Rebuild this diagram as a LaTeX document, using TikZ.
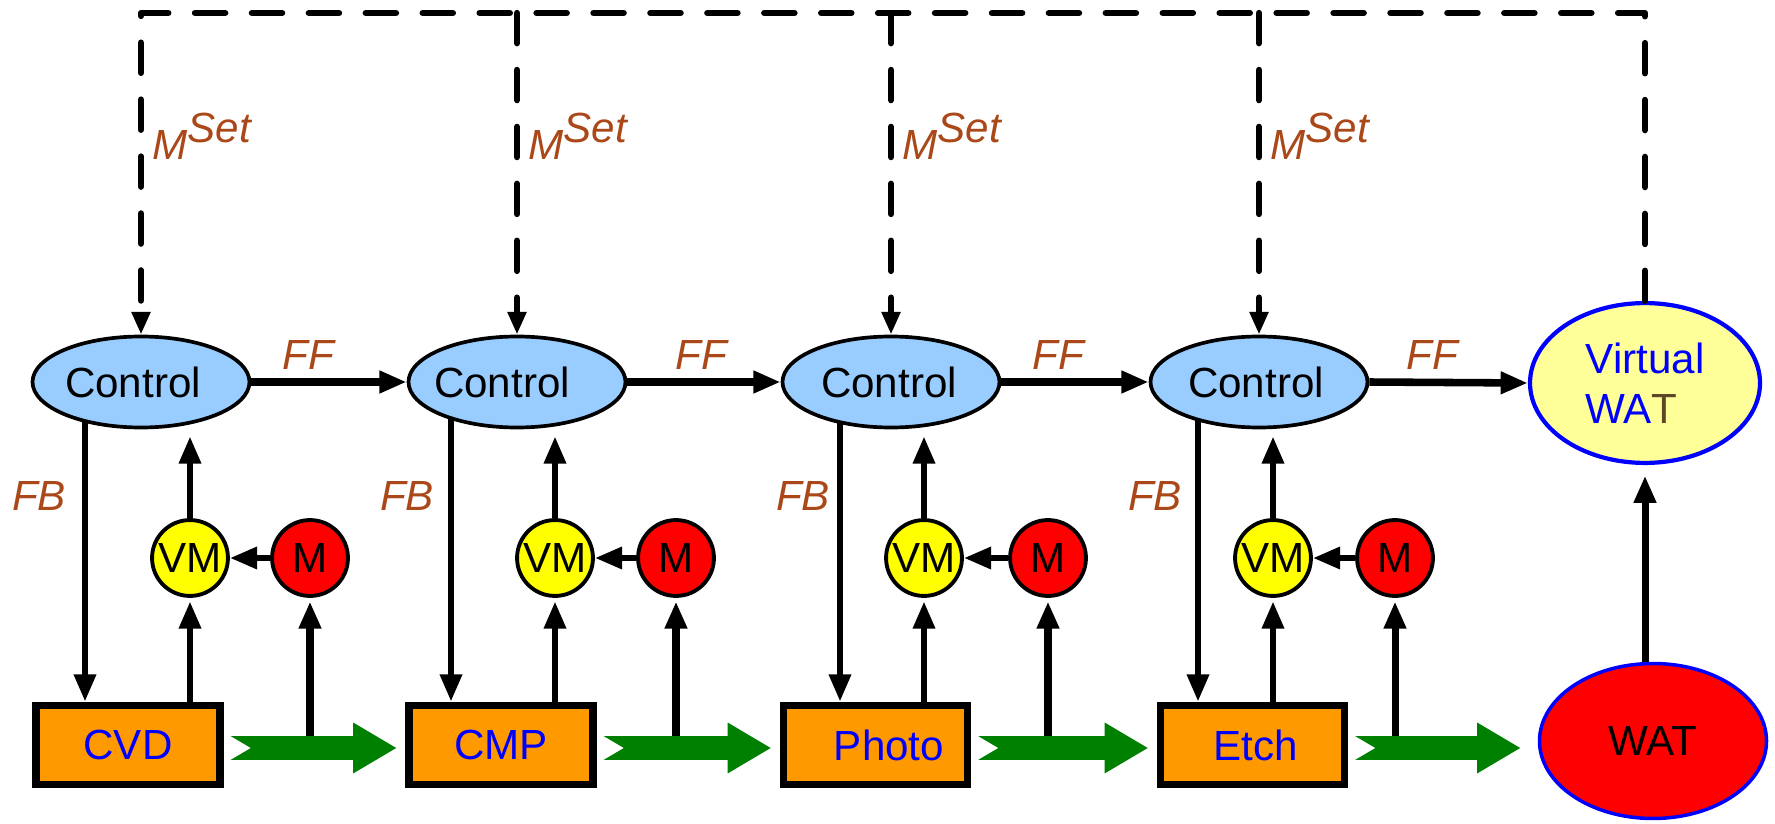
\documentclass[tikz,border=0pt]{standalone}
\usepackage{fontspec}
\setmainfont{Liberation Sans}
\usetikzlibrary{arrows.meta,shapes.geometric,calc,backgrounds}

\definecolor{ctlblue}{HTML}{99CCFF}
\definecolor{vmyellow}{HTML}{FFFF00}
\definecolor{mred}{HTML}{FF0000}
\definecolor{boxorange}{HTML}{FF9900}
\definecolor{flowgreen}{HTML}{008000}
\definecolor{vwyellow}{HTML}{FFFF99}
\definecolor{labelbrown}{RGB}{170,72,25}
\definecolor{textblue}{HTML}{0000FF}
\definecolor{tdark}{RGB}{95,70,40}

\newcommand\bigfont{\fontsize{24}{28.5}\selectfont}

% green process-flow arrow with notched tail, from #1 to #2, tip #3 short of #2
\newcommand\flowarrow[3]{%
  \fill[flow] let \p1=(#1.east), \p2=(#2.west) in
    (\x1+4pt,\y1-1.7pt+6.7pt) -- (\x2-#3-24.5pt,\y1-1.7pt+6.7pt)
    -- (\x2-#3-24.5pt,\y1-1.7pt+14.5pt) -- (\x2-#3,\y1-1.7pt)
    -- (\x2-#3-24.5pt,\y1-1.7pt-14.5pt) -- (\x2-#3-24.5pt,\y1-1.7pt-6.7pt)
    -- (\x1+4pt,\y1-1.7pt-6.7pt) -- (\x1+15.4pt,\y1-1.7pt) -- cycle;}

\tikzset{
  ctl/.style={ellipse, draw=black, line width=2.1pt, fill=ctlblue,
    minimum width=123.5pt, minimum height=51.8pt, inner sep=0pt, font=\bigfont},
  vmnode/.style={circle, draw=black, line width=2.2pt, fill=vmyellow,
    minimum size=43.2pt, inner sep=0pt, font=\bigfont},
  mnode/.style={vmnode, fill=mred},
  tool/.style={rectangle, draw=black, line width=4.4pt, fill=boxorange,
    minimum width=104.7pt, minimum height=45pt, inner sep=0pt,
    font=\bigfont, text=textblue},
  vwat/.style={ellipse, draw=textblue, line width=2.4pt, fill=vwyellow,
    minimum width=130.9pt, minimum height=91pt, inner sep=0pt,
    font=\bigfont, text=textblue, align=left},
  wat/.style={ellipse, draw=textblue, line width=2pt, fill=mred,
    minimum width=129.2pt, minimum height=88.2pt, inner sep=0pt, font=\bigfont},
  arr/.style={line width=3.5pt, -{Triangle[length=15.5pt,width=12pt]}},
  ffarr/.style={arr, line width=4.3pt},
  marr/.style={arr, line width=4pt},
  setarr/.style={line width=3.6pt, dash pattern=on 17.2pt off 15.2pt,
    line cap=round, line join=round, -{Triangle[length=13pt,width=10.2pt]}},
  lbl/.style={font=\bigfont\itshape, text=labelbrown, inner sep=0pt, anchor=base},
  setlbl/.style={lbl, anchor=base west},
  flow/.style={fill=flowgreen},
}

\begin{document}
\begin{tikzpicture}[x=0.02cm, y=-0.02cm]
\useasboundingbox (0,0) rectangle (1775,824);

% four process stages: controller, virtual metrology, metrology, tool
\foreach \i/\cx/\ts/\fbx/\vmx/\mx/\bx/\bs/\lab in
  {1/141/-9.1pt/85/190/310/128/0pt/CVD,
   2/517/-17pt/451/555/676/501/0pt/CMP,
   3/891/-2.3pt/840/924/1048/875.5/15.4pt/Photo,
   4/1259/-3.4pt/1198/1273/1395/1252.5/4pt/Etch} {
  \node[ctl] (ctl\i) at (\cx,382) {\makebox[0pt]{\hspace*{\ts}Control}};
  \node[vmnode] (vm\i) at (\vmx,558) {VM};
  \node[mnode] (m\i) at (\mx,558) {M};
  \node[tool] (box\i) at (\bx,745) {\makebox[0pt]{\hspace*{\bs}\lab}};
  \coordinate (fb\i) at (\fbx,745);
}

\node[vwat] (vw) at (1645,383) {Virtual\\WA\textcolor{tdark}{T}};
\node[wat] (wat) at (1653,741) {WAT};

% measurement and feedback connectors
\begin{pgfonlayer}{background}
\foreach \i in {1,...,4} {
  \draw[arr] (ctl\i.center -| fb\i) -- (box\i.north -| fb\i);
  \draw[arr, shorten >=2pt] (box\i.center -| vm\i) -- (vm\i.south);
  \draw[arr, shorten >=4pt] (vm\i.north) -- (vm\i.north |- ctl\i.south);
  \draw[arr] (m\i.west) -- (vm\i.east);
  \draw[marr, shorten >=2pt] (box\i.east -| m\i) -- (m\i.south);
}
\draw[marr, shorten >=6pt] (vw.south |- wat.center) -- (vw.south);
\end{pgfonlayer}

% process flow between tools
\flowarrow{box1}{box2}{5.1pt}
\flowarrow{box2}{box3}{5.1pt}
\flowarrow{box3}{box4}{5.1pt}
\flowarrow{box4}{wat}{10pt}

% feed-forward
\draw[ffarr] (ctl1.east) -- (ctl2.west);
\draw[ffarr] (ctl2.east) -- (ctl3.west);
\draw[ffarr] (ctl3.east) -- (ctl4.west);
\draw[ffarr] (ctl4.east) -- (vw.west);

% set-point distribution from the virtual WAT
\coordinate (top) at (0,13);
\draw[setarr] (vw.north) |- (ctl1.north |- top) -- (ctl1.north);
\foreach \i in {2,3,4}
  \draw[setarr] (ctl\i.north |- top) -- (ctl\i.north);

% labels
\node[lbl] (ff1) at (308,369) {FF};
\node[lbl] (ff2) at (701,369) {FF};
\node[lbl] (ff3) at (1058,369) {FF};
\node[lbl] (ff4) at (1432,369) {FF};
\node[lbl] (fbl1) at (39,510) {FB};
\node[lbl] (fbl2) at (407,510) {FB};
\node[lbl] (fbl3) at (803,510) {FB};
\node[lbl] (fbl4) at (1155,510) {FB};
\foreach \i in {1,...,4}
  \node[setlbl] (mset\i) at ($(ctl\i.north |- top)+(11,147)$)
    {M\raisebox{10.2pt}{Set}};
\end{tikzpicture}
\end{document}
